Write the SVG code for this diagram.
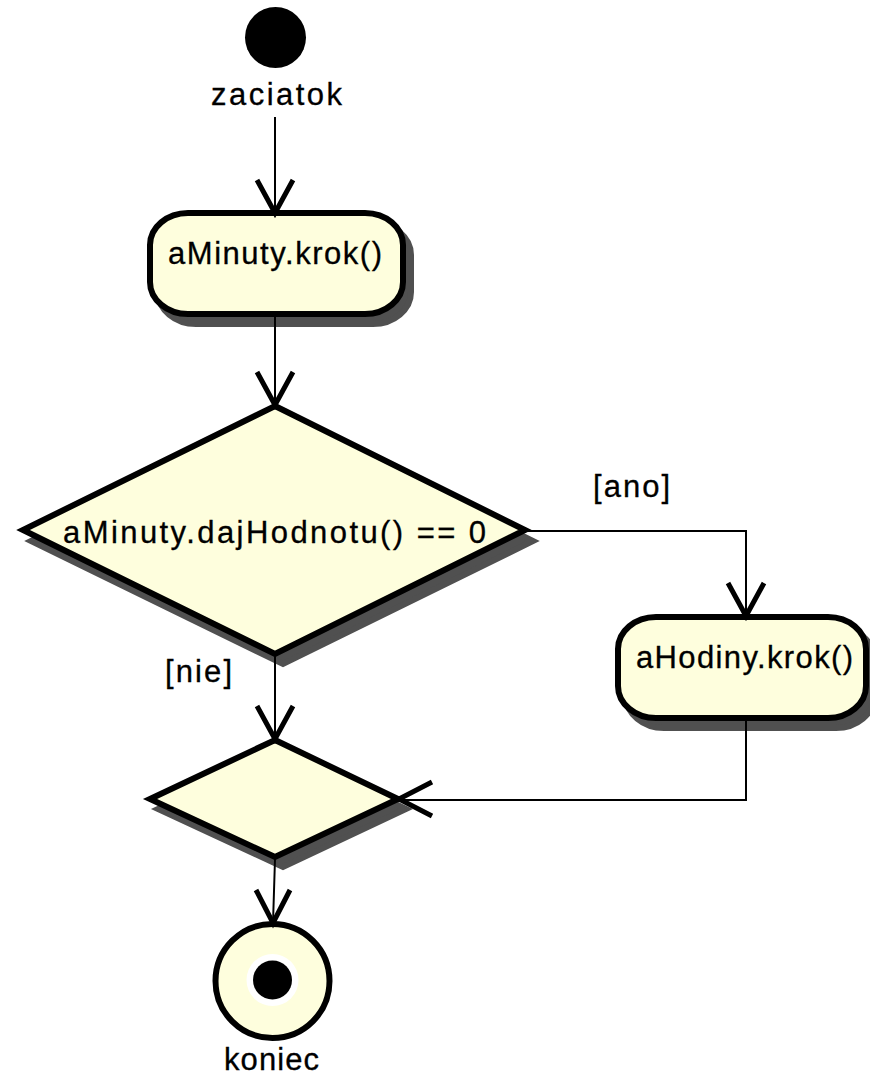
<svg xmlns="http://www.w3.org/2000/svg" width="870" height="1077" viewBox="0 0 870 1077">
  <style>
    .lbl { font-family: "Liberation Sans", Arial, sans-serif; font-size: 31px; fill: #000; stroke: #000; stroke-width: 0.3; }
    .node { fill: #FEFEDD; stroke: #000; stroke-width: 6; stroke-linejoin: miter; }
    .shadow { fill: #505050; stroke: #505050; stroke-width: 6; stroke-linejoin: miter; }
    .edge { fill: none; stroke: #000; stroke-width: 2; }
    .head { fill: none; stroke: #000; stroke-width: 5; stroke-linejoin: miter; stroke-linecap: butt; }
  </style>
  <rect width="870" height="1077" fill="#fff"/>

  <!-- initial node -->
  <g id="start">
    <circle cx="275.5" cy="37.5" r="30.5" fill="#000"/>
    <text class="lbl" x="211" y="105" textLength="131" lengthAdjust="spacing">zaciatok</text>
  </g>

  <!-- action: minutes step -->
  <g id="aMinutyKrok">
    <rect class="shadow" x="158" y="223" width="253" height="101" rx="38" ry="32"/>
    <rect class="node" x="150" y="213" width="253" height="101" rx="38" ry="32"/>
    <text class="lbl" x="168" y="264" textLength="214" lengthAdjust="spacing">aMinuty.krok()</text>
  </g>

  <!-- decision -->
  <g id="decision">
    <polygon class="shadow" points="283,416 533,541 283,664 31,541"/>
    <polygon class="node" points="275,406 525,530 275,654 23,530"/>
    <text class="lbl" x="63" y="543" textLength="423" lengthAdjust="spacing">aMinuty.dajHodnotu() == 0</text>
  </g>

  <!-- action: hours step -->
  <g id="aHodinyKrok">
    <rect class="shadow" x="626" y="627" width="248" height="101" rx="38" ry="32"/>
    <rect class="node" x="618" y="617" width="248" height="101" rx="38" ry="32"/>
    <text class="lbl" x="636" y="668" textLength="217" lengthAdjust="spacing">aHodiny.krok()</text>
  </g>

  <!-- merge node -->
  <g id="merge">
    <polygon class="shadow" points="283,750 406,809 283,867 158,809"/>
    <polygon class="node" points="275,740 398,799 275,857 150,799"/>
  </g>

  <!-- final node -->
  <g id="end">
    <circle class="node" cx="272.5" cy="981" r="57"/>
    <circle cx="272.5" cy="980" r="26" fill="#fff"/>
    <circle cx="272.5" cy="980" r="19.5" fill="#000"/>
    <text class="lbl" x="224" y="1070" textLength="95" lengthAdjust="spacing">koniec</text>
  </g>

  <!-- guard labels -->
  <g id="guards">
    <text class="lbl" x="593" y="497" textLength="77" lengthAdjust="spacing">[ano]</text>
    <text class="lbl" x="165" y="682" textLength="67" lengthAdjust="spacing">[nie]</text>
  </g>

  <!-- control flows -->
  <g id="connectors">
    <line class="edge" x1="275" y1="117" x2="275" y2="212"/>
    <polyline class="head" points="257,180 275,213 293,180"/>

    <line class="edge" x1="275" y1="314" x2="275" y2="404"/>
    <polyline class="head" points="257,372 275,405 293,372"/>

    <polyline class="edge" points="527,531 746,531 746,614"/>
    <polyline class="head" points="728,583 746,616 764,583"/>

    <line class="edge" x1="275" y1="656" x2="275" y2="738"/>
    <polyline class="head" points="257,706 275,739 293,706"/>

    <polyline class="edge" points="746,719 746,800 400,800"/>
    <polyline class="head" points="432,782 399,799 432,816"/>

    <line class="edge" x1="275" y1="859" x2="273" y2="923"/>
    <polyline class="head" points="256,890 273,923 290,890"/>
  </g>
</svg>
